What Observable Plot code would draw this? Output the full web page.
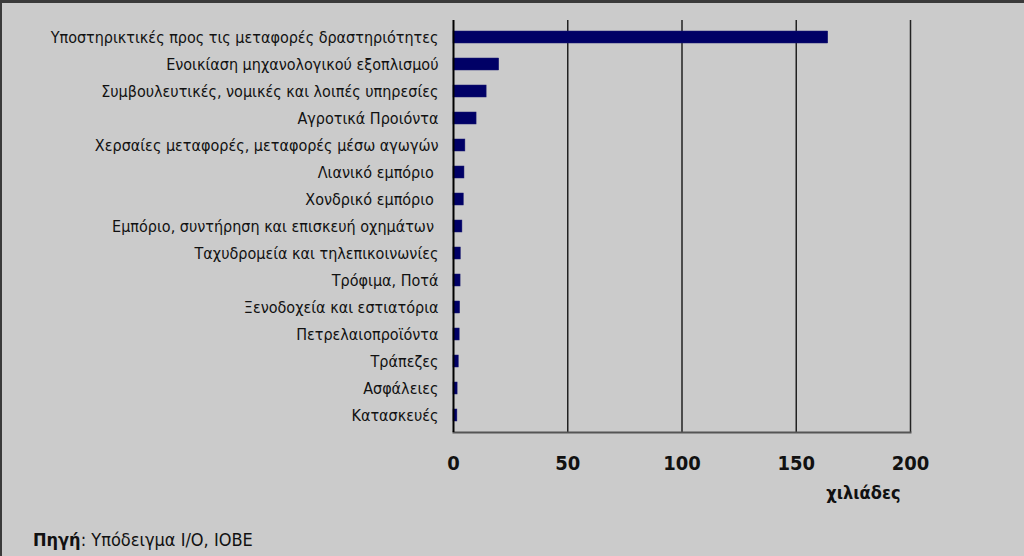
<!DOCTYPE html>
<html>
<head>
<meta charset="utf-8">
<script src="https://cdn.jsdelivr.net/npm/d3@7"></script>
<script src="https://cdn.jsdelivr.net/npm/@observablehq/plot@0.6"></script>
<style>
  html, body { margin: 0; padding: 0; background: #cbcbcb; }
  #wrap { position: relative; width: 1024px; height: 556px; overflow: hidden; background: #cbcbcb; }
  #chart { position: absolute; left: 0; top: 0; }
  #border { position: absolute; left: 0; top: 0; width: 1024px; height: 556px; box-sizing: border-box;
            border-top: 3px solid #3a3a3a; border-left: 2px solid #3a3a3a; pointer-events: none; }
  #caption { position: absolute; left: 33px; top: 529px; font-family: "Liberation Sans Narrow", "DejaVu Sans Condensed", sans-serif;
             font-size: 18px; color: #111; }
  #caption b { font-weight: bold; }
  svg text { white-space: pre; }
</style>
</head>
<body>
<div id="wrap">
  <div id="chart"></div>
  <div id="border"></div>
  <div id="caption"><b>Πηγή</b>: Υπόδειγμα I/O, IOBE</div>
</div>
<script>
const categories = [
  "Υποστηρικτικές προς τις μεταφορές δραστηριότητες",
  "Ενοικίαση μηχανολογικού εξοπλισμού",
  "Συμβουλευτικές, νομικές και λοιπές υπηρεσίες",
  "Αγροτικά Προιόντα",
  "Χερσαίες μεταφορές, μεταφορές μέσω αγωγών",
  "Λιανικό εμπόριο ",
  "Χονδρικό εμπόριο ",
  "Εμπόριο, συντήρηση και επισκευή οχημάτων ",
  "Ταχυδρομεία και τηλεπικοινωνίες",
  "Τρόφιμα, Ποτά",
  "Ξενοδοχεία και εστιατόρια",
  "Πετρελαιοπροϊόντα",
  "Τράπεζες",
  "Ασφάλειες",
  "Κατασκευές"
];
const values = [164, 20, 14.5, 10.1, 5.2, 4.8, 4.5, 3.9, 3.2, 3.1, 2.9, 2.7, 2.3, 1.8, 1.7];
const xTicks = [0, 50, 100, 150, 200];
const xUnit = "χιλιάδες";

const data = categories.map((name, i) => ({name, value: values[i]}));
const font = "'Liberation Sans Narrow', 'DejaVu Sans Condensed', sans-serif";

const chart = Plot.plot({
  width: 1024,
  height: 515,
  marginLeft: 453,
  marginRight: 114,
  marginTop: 20,
  marginBottom: 83,
  style: {background: "transparent", fontFamily: font, color: "#111"},
  x: {domain: [0, 200], ticks: xTicks},
  y: {domain: categories, paddingInner: 0.56, paddingOuter: 0.28},
  marks: [
    Plot.gridX(xTicks.slice(1), {stroke: "#222", strokeOpacity: 1, strokeWidth: 1.5}),
    Plot.frame({anchor: "bottom", stroke: "#555", strokeWidth: 2}),
    Plot.barX(data, {x: "value", y: "name", fill: "#000066", stroke: "#1a1a70", strokeWidth: 0.5}),
    Plot.ruleX([0], {stroke: "#000", strokeWidth: 2}),
    Plot.axisY({tickSize: 0, tickPadding: 15, fontSize: 16, label: null, fill: "#111"}),
    Plot.axisX({ticks: xTicks, tickSize: 0, tickPadding: 23, fontSize: 20, fontWeight: "bold", label: null, fill: "#111"}),
    Plot.text([xUnit], {frameAnchor: "bottom-right", dx: -10, dy: 66, fontSize: 18, fontWeight: "bold", fill: "#111", textAnchor: "end"})
  ]
});
document.getElementById("chart").appendChild(chart);
</script>
</body>
</html>
